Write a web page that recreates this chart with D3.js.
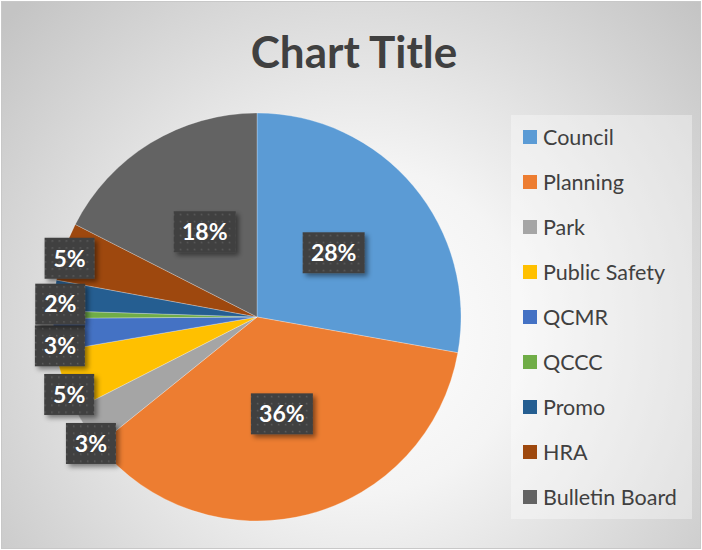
<!DOCTYPE html>
<html>
<head>
<meta charset="utf-8">
<script src="https://cdn.jsdelivr.net/npm/d3@7"></script>
<style>
  html, body { margin: 0; padding: 0; background: #fff; }
  svg { display: block; font-family: Lato, "Open Sans", sans-serif; }
</style>
</head>
<body>
<div id="chart"></div>
<script>
// Data
const categories = ["Council", "Planning", "Park", "Public Safety", "QCMR", "QCCC", "Promo", "HRA", "Bulletin Board"];
const values = [27.8, 36.4, 3.3, 4.8, 2.6, 0.6, 2.4, 4.6, 17.5];
const colors = ["#5B9BD5", "#ED7D31", "#A5A5A5", "#FFC000", "#4472C4", "#70AD47", "#255E91", "#9E480E", "#636363"];
const chartTitle = "Chart Title";

const width = 702, height = 550;
const cx = 257, cy = 317, radius = 204;

const svg = d3.select("#chart").append("svg")
    .attr("width", width)
    .attr("height", height);

const defs = svg.append("defs");

// Background radial gradient (light center, grey corners)
const bg = defs.append("radialGradient")
    .attr("id", "bgGrad")
    .attr("gradientUnits", "userSpaceOnUse")
    .attr("cx", 360).attr("cy", 330).attr("r", 470);
bg.append("stop").attr("offset", "0%").attr("stop-color", "#ffffff");
bg.append("stop").attr("offset", "35%").attr("stop-color", "#f4f4f4");
bg.append("stop").attr("offset", "100%").attr("stop-color", "#c4c4c4");

// Dotted fill used in the data label boxes
const pat = defs.append("pattern")
    .attr("id", "dots")
    .attr("patternUnits", "userSpaceOnUse")
    .attr("width", 7).attr("height", 7);
pat.append("rect").attr("width", 7).attr("height", 7).attr("fill", "#404040");
pat.append("rect").attr("x", 3).attr("y", 3).attr("width", 1.5).attr("height", 1.5).attr("fill", "#5e5e5e");

const shadow = defs.append("filter")
    .attr("id", "shadow")
    .attr("x", "-30%").attr("y", "-30%")
    .attr("width", "160%").attr("height", "160%");
shadow.append("feDropShadow")
    .attr("dx", 3).attr("dy", 3)
    .attr("stdDeviation", 2.5)
    .attr("flood-color", "#000")
    .attr("flood-opacity", 0.45);

svg.append("rect")
    .attr("x", 1.5).attr("y", 1.5)
    .attr("width", width - 3).attr("height", height - 3)
    .attr("fill", "url(#bgGrad)")
    .attr("stroke", "#c8c8c8");

// Title
svg.append("text")
    .attr("x", 354)
    .attr("y", 68)
    .attr("text-anchor", "middle")
    .attr("font-size", 44)
    .attr("font-weight", "bold")
    .attr("fill", "#404040")
    .text(chartTitle);

// Pie
const color = d3.scaleOrdinal().domain(categories).range(colors);
const total = d3.sum(values);
const data = categories.map((c, i) => ({ name: c, value: values[i] }));

const pie = d3.pie().sort(null).value(d => d.value);
const arcs = pie(data);

const arc = d3.arc().innerRadius(0).outerRadius(radius);
const g = svg.append("g").attr("transform", `translate(${cx},${cy})`);

g.selectAll("path")
    .data(arcs)
    .enter().append("path")
    .attr("d", arc)
    .attr("fill", d => color(d.data.name))
    .attr("stroke", "rgba(255,255,255,0.45)")
    .attr("stroke-width", 0.6);

// Data labels
const pct = d => Math.round(d.data.value / total * 100);
const innerArc = d3.arc().innerRadius(100).outerRadius(100);
const labels = arcs.filter(d => pct(d) >= 2).map(d => {
    const p = pct(d);
    const inside = p >= 10;
    let x, y;
    if (inside) {
        [x, y] = innerArc.centroid(d);
    } else {
        const a = (d.startAngle + d.endAngle) / 2;
        x = Math.sin(a) * radius * 0.97;
        y = -Math.cos(a) * radius * 1.05 + 10;
    }
    return { d, p, inside, x, y };
});

// push small outside labels apart vertically
const outside = labels.filter(l => !l.inside).sort((a, b) => a.y - b.y);
for (let i = 1; i < outside.length; i++) {
    if (outside[i].y - outside[i - 1].y < 41) outside[i].y = outside[i - 1].y + 41;
}

const lab = g.selectAll(".data-label")
    .data(labels)
    .enter().append("g")
    .attr("class", "data-label")
    .attr("transform", l => `translate(${l.x},${l.y})`);

lab.append("rect")
    .attr("x", l => l.p >= 10 ? -31 : -25)
    .attr("y", -20.5)
    .attr("width", l => l.p >= 10 ? 62 : 50)
    .attr("height", 41)
    .attr("fill", "url(#dots)")
    .attr("filter", "url(#shadow)");

lab.append("text")
    .attr("text-anchor", "middle")
    .attr("dy", "0.36em")
    .attr("font-size", 23)
    .attr("font-weight", "bold")
    .attr("fill", "#ffffff")
    .text(l => l.p + "%");

// Legend
const legend = svg.append("g").attr("class", "legend");
legend.append("rect")
    .attr("x", 511).attr("y", 115)
    .attr("width", 181).attr("height", 404)
    .attr("fill", "#ffffff")
    .attr("fill-opacity", 0.35);

const rowY = d3.scalePoint().domain(categories).range([137, 497]);

const items = legend.selectAll(".legend-item")
    .data(categories)
    .enter().append("g")
    .attr("class", "legend-item")
    .attr("transform", d => `translate(523,${rowY(d)})`);

items.append("rect")
    .attr("y", -7)
    .attr("width", 14).attr("height", 14)
    .attr("fill", color);

items.append("text")
    .attr("x", 20)
    .attr("dy", "0.35em")
    .attr("font-size", 21.5)
    .attr("fill", "#404040")
    .text(d => d);
</script>
</body>
</html>
